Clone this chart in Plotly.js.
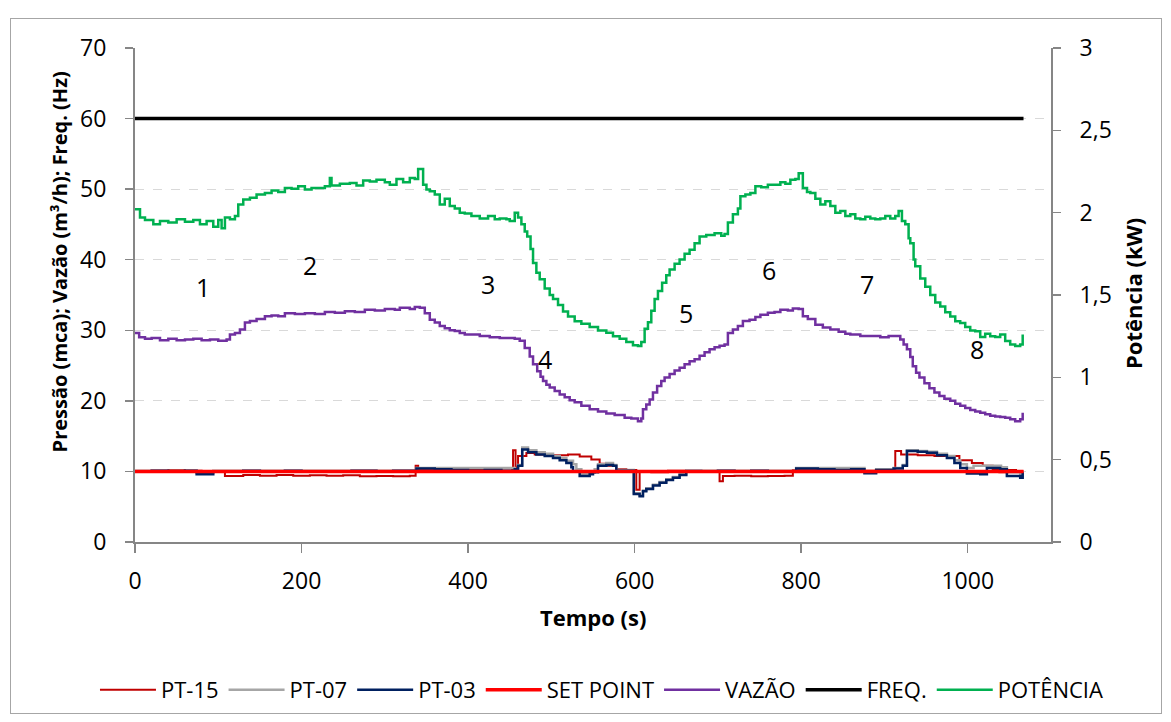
<!DOCTYPE html>
<html>
<head>
<meta charset="utf-8">
<script src="https://cdn.plot.ly/plotly-3.0.1.min.js"></script>
<style>
html,body{margin:0;padding:0;background:#fff;}
#wrap{position:relative;width:1171px;height:722px;}
#frame{position:absolute;left:10px;top:18px;width:1150px;height:694px;border:1px solid #A6A6A6;pointer-events:none;}
#chart{position:absolute;left:0;top:0;width:1171px;height:722px;}
</style>
</head>
<body>
<div id="wrap"><div id="frame"></div><div id="chart"></div></div>
<script>
// ---- DATA ----
const xTicks = [0, 200, 400, 600, 800, 1000];

const tPT15 = [0,20,40,60,80,100,108,130,150,170,
  190,210,230,250,270,290,310,330,337,340,
  360,380,400,420,440,453,454,457,460,470,
  480,500,520,534,548,558,566,574,578,590,
  600,602,606,620,640,660,680,700,702,706,
  720,740,760,780,790,810,830,850,870,890,
  912,913,920,940,960,975,990,1005,1018,1030,
  1038,1048,1058,1066];
const vPT15 = [10.0,10.1,10.2,10.1,10.0,10.0,9.35,9.5,9.4,9.5,
  9.4,9.45,9.4,9.45,9.3,9.35,9.3,9.4,10.8,10.3,
  10.2,10.1,10.2,10.1,10.1,10.3,13.0,10.6,12.2,12.6,
  12.4,12.3,12.4,12.1,11.7,11.1,10.8,10.8,10.3,10.2,
  10.2,7.4,10.0,9.9,10.1,10.0,10.0,10.0,8.6,9.35,
  9.4,9.3,9.35,9.4,10.2,10.2,10.1,10.2,10.1,10.2,
  10.3,12.9,12.4,12.3,12.2,12.2,11.6,11.2,10.8,10.2,
  9.9,10.2,10.0,9.9];

const tPT07 = [0,60,74,94,200,336,338,456,460,465,
  472,482,492,502,510,518,526,530,536,546,
  552,556,566,574,578,597,599,606,610,614,
  622,630,638,646,654,662,790,794,876,890,
  911,922,927,940,951,963,975,984,991,999,
  1007,1030,1040,1047,1063,1066];
const vPT07 = [10.1,10.1,9.8,10.1,10.1,10.1,10.5,10.3,10.9,13.4,
  13.0,12.7,12.5,12.2,11.9,11.5,11.0,10.3,9.6,9.8,
  10.3,11.0,11.2,10.9,10.2,10.2,6.9,6.6,7.3,7.6,
  8.1,8.5,8.9,9.2,9.6,10.1,10.1,10.5,9.9,10.3,
  10.5,10.9,13.0,12.9,12.8,12.5,12.2,11.6,11.0,10.5,
  10.8,10.8,10.6,9.9,9.4,10.0];

const tPT03 = [0,20,40,60,74,94,110,130,150,180,
  200,230,260,290,310,336,338,360,380,400,
  420,440,456,460,465,472,482,492,502,510,
  518,524,526,534,546,550,556,566,574,578,
  597,599,606,610,614,622,630,638,646,654,
  662,680,700,720,740,760,790,794,820,840,
  860,876,890,911,922,927,940,951,963,975,
  984,991,999,1015,1023,1039,1047,1063,1066];
const vPT03 = [10.0,10.1,10.0,10.1,9.6,10.0,10.0,10.1,10.0,10.1,
  10.0,10.0,10.1,10.0,10.1,10.0,10.4,10.3,10.2,10.1,
  10.2,10.1,10.3,10.8,13.1,12.7,12.4,12.2,11.9,11.6,
  11.2,10.6,10.0,9.35,9.6,9.9,10.8,10.9,10.8,10.1,
  10.1,6.8,6.5,7.2,7.5,8.0,8.4,8.8,9.1,9.5,
  10.05,10.0,10.1,10.0,10.1,10.0,10.0,10.4,10.3,10.2,
  10.3,9.75,10.2,10.4,10.8,12.9,12.8,12.65,12.3,11.9,
  11.2,10.5,9.7,9.6,10.5,10.3,9.35,9.1,9.9];

const tSetPoint = [0, 1067];
const vSetPoint = [10, 10];

const tVazao = [0,5,12,20,30,40,50,60,70,80,
  90,100,110,114,120,126,132,138,146,156,
  164,172,180,192,204,216,228,240,252,264,
  276,288,300,312,318,330,336,342,348,354,
  360,366,372,378,384,390,396,404,414,426,
  438,450,456,462,468,474,478,483,487,490,
  494,498,504,510,516,522,528,536,546,556,
  566,576,588,596,604,608,610,614,618,622,
  627,632,636,642,648,654,660,666,672,678,
  684,690,696,702,708,712,718,724,730,738,
  745,751,760,768,775,784,790,797,802,808,
  817,826,835,845,853,859,871,883,895,905,
  913,919,923,927,931,934,938,942,948,954,
  960,966,972,979,985,991,997,1003,1009,1015,
  1021,1027,1033,1039,1045,1051,1057,1063,1066];
const vVazao = [29.6,29.0,28.8,28.9,28.6,28.8,28.6,28.7,28.8,28.6,
  28.7,28.5,28.7,29.4,29.6,30.1,31.1,31.3,31.6,32.0,
  32.1,32.0,32.4,32.3,32.4,32.3,32.6,32.5,32.7,32.6,
  32.9,32.8,33.0,32.9,33.2,33.0,33.3,33.2,32.4,31.5,
  31.1,30.6,30.3,30.0,29.9,29.6,29.4,29.4,29.2,29.0,
  28.9,28.9,28.8,28.5,27.5,26.3,25.2,24.2,23.4,22.8,
  22.3,21.9,21.4,20.9,20.5,20.1,19.8,19.3,18.8,18.5,
  18.2,18.0,17.6,17.5,17.1,17.5,18.8,19.5,20.2,21.2,
  22.1,22.8,23.3,23.8,24.3,24.7,25.2,25.6,25.9,26.4,
  26.9,27.3,27.6,27.8,28.0,29.6,30.1,30.6,31.3,31.5,
  31.9,32.2,32.5,32.6,32.9,32.8,33.1,33.0,32.0,31.6,
  30.8,30.4,30.1,29.8,29.5,29.4,29.2,29.2,29.0,29.2,
  29.2,28.7,28.0,27.3,26.2,24.9,24.0,23.3,22.5,21.8,
  21.2,20.7,20.3,20.0,19.6,19.3,19.0,18.7,18.5,18.3,
  18.1,17.9,17.8,17.7,17.6,17.4,17.1,17.4,18.3];

const tFreq = [0, 1067];
const vFreq = [60, 60];

const tPot = [0,6,12,22,30,40,50,60,70,78,
  86,94,100,104,108,114,120,124,130,138,
  146,156,164,172,180,188,196,204,212,222,
  228,234,236,246,258,266,274,282,290,300,
  306,314,322,330,336,340,346,350,354,360,
  366,372,378,384,390,396,404,414,424,432,
  438,446,450,456,460,464,468,471,475,478,
  482,486,492,498,502,508,514,520,528,536,
  546,556,566,574,582,590,598,604,608,612,
  616,620,624,628,633,638,642,648,654,660,
  666,672,678,686,696,704,708,712,718,724,
  727,733,739,745,752,760,769,775,781,787,
  793,797,802,807,811,817,823,829,835,841,
  847,853,859,865,871,877,883,889,895,901,
  907,913,917,921,925,929,931,935,937,943,
  949,955,961,967,973,979,985,991,997,1003,
  1009,1015,1021,1027,1033,1039,1045,1051,1057,1063,
  1066];
const vPot = [2.02,1.97,1.955,1.93,1.95,1.94,1.96,1.945,1.955,1.93,
  1.95,1.915,1.955,1.905,1.97,1.96,1.98,2.05,2.08,2.09,
  2.11,2.12,2.135,2.125,2.15,2.145,2.16,2.14,2.15,2.15,
  2.16,2.21,2.165,2.175,2.18,2.165,2.195,2.19,2.2,2.185,
  2.17,2.205,2.185,2.21,2.205,2.265,2.17,2.14,2.13,2.11,
  2.05,2.085,2.04,2.025,2.0,1.995,1.98,1.965,1.98,1.96,
  1.965,1.96,1.95,2.0,1.97,1.93,1.885,1.855,1.78,1.695,
  1.635,1.595,1.54,1.5,1.475,1.44,1.4,1.37,1.34,1.325,
  1.305,1.285,1.27,1.25,1.235,1.215,1.195,1.19,1.215,1.295,
  1.335,1.405,1.475,1.525,1.575,1.62,1.655,1.69,1.715,1.75,
  1.775,1.815,1.855,1.865,1.875,1.86,1.87,1.94,1.99,2.025,
  2.1,2.11,2.12,2.16,2.155,2.17,2.17,2.185,2.175,2.2,
  2.205,2.24,2.15,2.125,2.12,2.085,2.05,2.07,2.04,2.0,
  2.01,1.98,1.99,1.965,1.96,1.975,1.965,1.96,1.965,1.98,
  1.965,1.98,2.01,1.95,1.93,1.845,1.815,1.715,1.675,1.6,
  1.55,1.5,1.455,1.43,1.395,1.37,1.34,1.33,1.305,1.285,
  1.28,1.245,1.265,1.25,1.245,1.26,1.22,1.2,1.19,1.2,
  1.26];

const phaseLabels = ['1','2','3','4','5','6','7','8'];
const phaseX = [82, 210, 424, 492, 662, 761, 879, 1011];
const phaseY = [36.2, 39.3, 36.5, 25.9, 32.5, 38.6, 36.6, 27.3];

// ---- CHART ----
const FONT = 'Open Sans, sans-serif';
function tr(name, x, y, color, width, axis) {
  return {type:'scatter', mode:'lines', name:name, x:x, y:y,
    yaxis: axis || 'y', line:{color:color, width:width, shape:'hv'}};
}
const data = [
  tr('PT-15', tPT15, vPT15, '#C00000', 2),
  tr('PT-07', tPT07, vPT07, '#A6A6A6', 2.5),
  tr('PT-03', tPT03, vPT03, '#002060', 2.5),
  tr('SET POINT', tSetPoint, vSetPoint, '#FF0000', 3.5),
  tr('VAZÃO', tVazao, vVazao, '#7030A0', 2.5),
  tr('FREQ.', tFreq, vFreq, '#000000', 3.5),
  tr('POTÊNCIA', tPot, vPot, '#00B050', 2.5, 'y2')
];

const annotations = phaseLabels.map((t,i)=>({
  text:t, x:phaseX[i], y:phaseY[i], xref:'x', yref:'y', showarrow:false,
  font:{family:FONT, size:25, color:'#000'}
}));
annotations.push(
  {text:'<b>Pressão (mca); Vazão (m³/h); Freq. (Hz)</b>', xref:'paper', yref:'paper',
   x:-0.083, y:0.568, textangle:-90, showarrow:false, xanchor:'center', yanchor:'middle',
   font:{family:FONT, size:20, color:'#000'}},
  {text:'<b>Potência (kW)</b>', xref:'paper', yref:'paper',
   x:1.0895, y:0.504, textangle:-90, showarrow:false, xanchor:'center', yanchor:'middle',
   font:{family:FONT, size:22, color:'#000'}},
  {text:'<b>Tempo (s)</b>', xref:'paper', yref:'paper',
   x:0.5, y:-0.1515, showarrow:false, xanchor:'center', yanchor:'middle',
   font:{family:FONT, size:22, color:'#000'}}
);

const axisCommon = {
  showline:true, linecolor:'#868686', linewidth:2, ticks:'outside',
  tickcolor:'#868686', tickwidth:1.5, zeroline:false,
  tickfont:{family:FONT, size:23, color:'#000'}
};

const layout = {
  width:1171, height:722,
  margin:{l:135, r:120, t:48, b:179},
  paper_bgcolor:'rgba(0,0,0,0)', plot_bgcolor:'rgba(0,0,0,0)',
  separators:',.',
  showlegend:true,
  xaxis:Object.assign({}, axisCommon, {range:[0,1100], tickvals:xTicks, ticklen:9,
    showgrid:false, ticklabelstandoff:8}),
  yaxis:Object.assign({}, axisCommon, {range:[0,70], dtick:10, tick0:0, ticklen:8,
    showgrid:true, gridcolor:'#D9D9D9', griddash:'dash', gridwidth:1, ticklabelstandoff:14}),
  yaxis2:Object.assign({}, axisCommon, {range:[0,3], dtick:0.5, tick0:0, ticklen:8,
    overlaying:'y', side:'right', showgrid:false, ticklabelstandoff:14}),
  legend:{orientation:'h', x:-0.0437, xanchor:'left', y:-0.297, yanchor:'middle',
    font:{family:FONT, size:22, color:'#000'}, itemwidth:56, traceorder:'normal'},
  annotations:annotations
};

Plotly.newPlot('chart', data, layout, {staticPlot:true});
</script>
</body>
</html>
